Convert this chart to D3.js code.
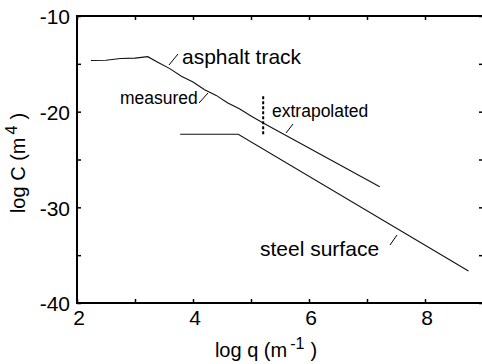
<!DOCTYPE html>
<html>
<head>
<meta charset="utf-8">
<script src="https://cdn.jsdelivr.net/npm/d3@7"></script>
<style>
  body { margin: 0; background: #fff; }
  text { font-family: "Liberation Sans", Arial, sans-serif; fill: #000; }
</style>
</head>
<body>
<div id="chart"></div>
<script>
// data (log q, log C)
const asphaltQ = [2.24, 2.5, 2.75, 3.0, 3.22, 3.4, 3.6, 3.8, 4.0, 4.2, 4.4, 4.6, 4.8, 5.0, 5.21, 7.22];
const asphaltC = [-14.65, -14.62, -14.45, -14.4, -14.25, -14.85, -15.5, -16.3, -16.9, -17.7, -18.3, -19.1, -19.7, -20.45, -21.18, -27.84];
const steelQ = [3.78, 4.78, 8.75];
const steelC = [-22.36, -22.36, -36.65];
const xTicks = [2, 4, 6, 8];
const yTicks = [-40, -30, -20, -10];

const w = 482;
const h = 364;

const svg = d3.select("#chart")
              .append("svg")
              .attr("width", w)
              .attr("height", h);

const x = d3.scaleLinear().domain([2, 9]).range([77, 483]);
const y = d3.scaleLinear().domain([-40, -10]).range([303, 16]);

// frame with inward ticks
const minorX = d3.range(2, 10, 1);
const minorY = d3.range(-40, -9, 5);

svg.append("g")
   .attr("transform", "translate(0,303)")
   .call(d3.axisBottom(x).tickValues(minorX).tickSize(-4).tickFormat(""))
   .call(g => g.select(".domain").remove());
svg.append("g")
   .attr("transform", "translate(0,16)")
   .call(d3.axisTop(x).tickValues(minorX).tickSize(-4).tickFormat(""))
   .call(g => g.select(".domain").remove());
svg.append("g")
   .attr("transform", "translate(77,0)")
   .call(d3.axisLeft(y).tickValues(minorY).tickSize(-4).tickFormat(""))
   .call(g => g.select(".domain").remove());
svg.append("g")
   .attr("transform", "translate(483,0)")
   .call(d3.axisRight(y).tickValues(minorY).tickSize(-4).tickFormat(""))
   .call(g => g.select(".domain").remove());
svg.selectAll(".tick line").attr("stroke", "#000").attr("stroke-width", 1.5);

svg.append("rect")
   .attr("x", x(2)).attr("y", y(-10))
   .attr("width", x(9) - x(2)).attr("height", y(-40) - y(-10))
   .attr("fill", "none").attr("stroke", "#000").attr("stroke-width", 2);

// tick labels
svg.selectAll(".xlab")
   .data(xTicks)
   .enter()
   .append("text")
   .attr("x", d => x(d) + 2)
   .attr("y", 325)
   .attr("text-anchor", "middle")
   .style("font-size", "21px")
   .text(d => d);

svg.selectAll(".ylab")
   .data(yTicks)
   .enter()
   .append("text")
   .attr("x", 70)
   .attr("y", d => y(d) + 1)
   .attr("dy", "0.35em")
   .attr("text-anchor", "end")
   .style("font-size", "21px")
   .text(d => d);

// axis titles
const xt = svg.append("text")
              .attr("x", 266)
              .attr("y", 357)
              .attr("text-anchor", "middle")
              .style("font-size", "20px");
xt.append("tspan").text("log q (m");
xt.append("tspan").attr("dy", -8).attr("dx", 3).style("font-size", "16px").text("-1");
xt.append("tspan").attr("dy", 8).attr("dx", 6).text(")");

const yt = svg.append("text")
              .attr("transform", "rotate(-90)")
              .attr("x", -163)
              .attr("y", 25)
              .attr("text-anchor", "middle")
              .style("font-size", "20px");
yt.append("tspan").text("log C (m");
yt.append("tspan").attr("dy", -8).attr("dx", 3).style("font-size", "16px").text("4");
yt.append("tspan").attr("dy", 8).attr("dx", 6).text(")");

// curves
const line = d3.line().x(d => x(d[0])).y(d => y(d[1]));

svg.append("path")
   .datum(asphaltQ.map((q, i) => [q, asphaltC[i]]))
   .attr("d", line)
   .attr("fill", "none")
   .attr("stroke", "#111")
   .attr("stroke-width", 1.1);

svg.append("path")
   .datum(steelQ.map((q, i) => [q, steelC[i]]))
   .attr("d", line)
   .attr("fill", "none")
   .attr("stroke", "#111")
   .attr("stroke-width", 1.1);

// measured / extrapolated divider
svg.append("line")
   .attr("x1", x(5.21)).attr("x2", x(5.21))
   .attr("y1", y(-18.4)).attr("y2", y(-22.4))
   .attr("stroke", "#000")
   .attr("stroke-width", 2)
   .attr("stroke-dasharray", "3,2");

// labels and pointers
const labels = [
  {t: "asphalt track", x: 182, y: 64, s: 21},
  {t: "measured", x: 120, y: 104, s: 17.5},
  {t: "extrapolated", x: 272, y: 117, s: 17.5},
  {t: "steel surface", x: 260, y: 256, s: 21}
];
svg.selectAll(".ann")
   .data(labels)
   .enter()
   .append("text")
   .attr("x", d => d.x)
   .attr("y", d => d.y)
   .style("font-size", d => d.s + "px")
   .text(d => d.t);

const pointers = [
  [169, 65, 178, 54],
  [199, 103, 208, 93],
  [286, 133, 293, 124],
  [390, 245, 397, 235]
];
svg.selectAll(".ptr")
   .data(pointers)
   .enter()
   .append("line")
   .attr("x1", d => d[0]).attr("y1", d => d[1])
   .attr("x2", d => d[2]).attr("y2", d => d[3])
   .attr("stroke", "#000")
   .attr("stroke-width", 1);
</script>
</body>
</html>
